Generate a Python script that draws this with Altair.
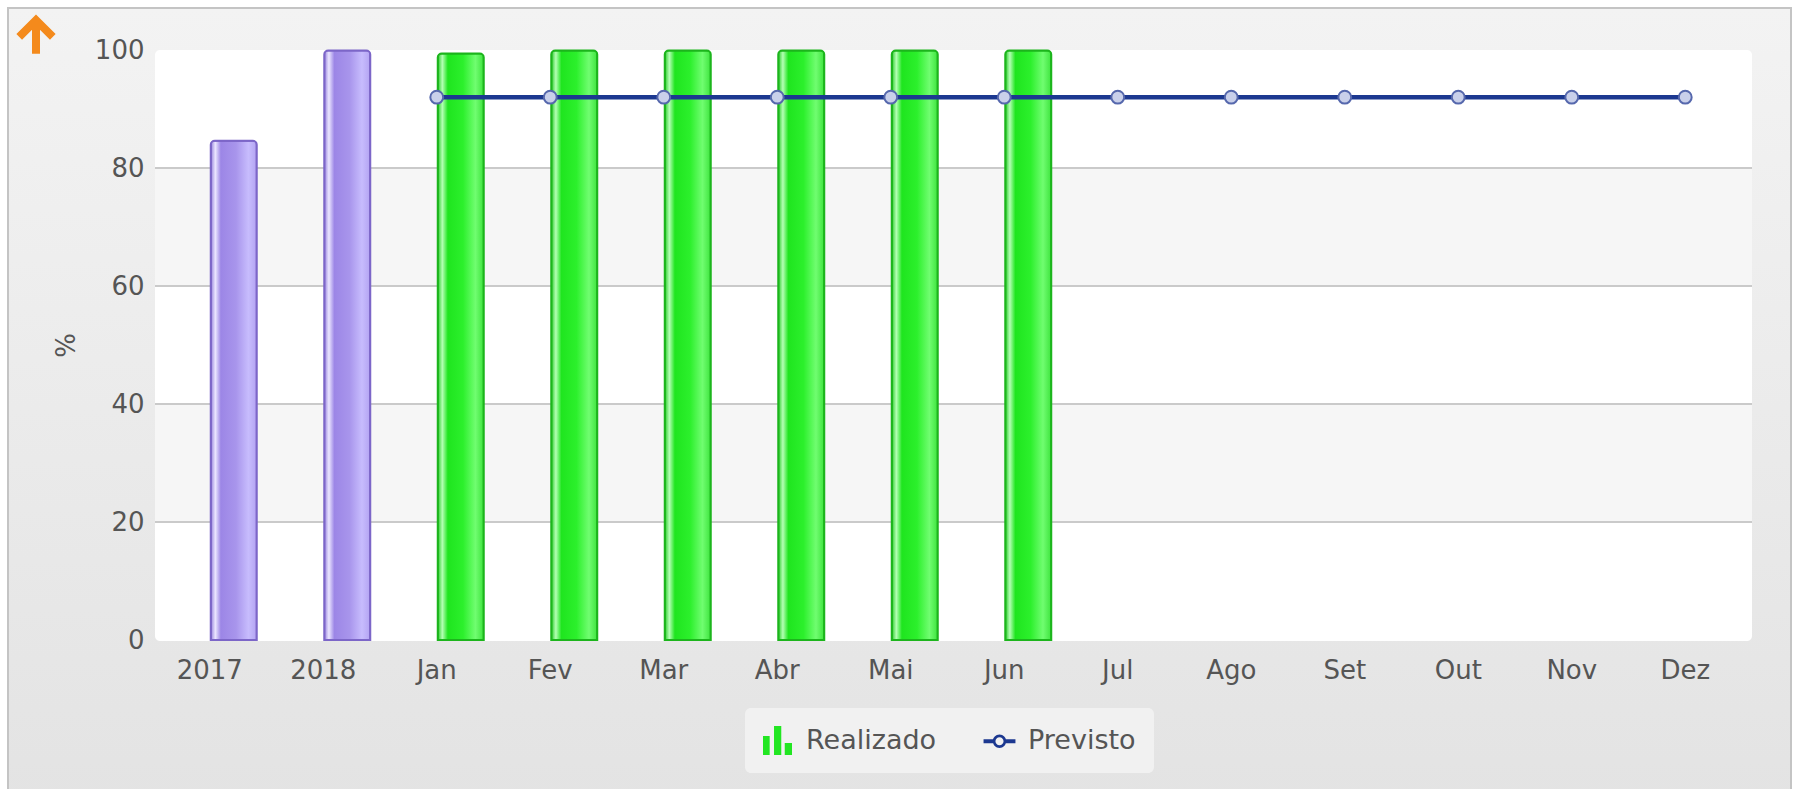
import altair as alt
import pandas as pd

# Categories on the x axis: two yearly totals followed by the months
categorias = ["2017", "2018", "Jan", "Fev", "Mar", "Abr", "Mai", "Jun",
              "Jul", "Ago", "Set", "Out", "Nov", "Dez"]

# Realizado (%) - yearly values
anos = ["2017", "2018"]
realizado_anos = [84.6, 99.9]

# Realizado (%) - monthly values available so far
meses_realizados = ["Jan", "Fev", "Mar", "Abr", "Mai", "Jun"]
realizado_meses = [99.4, 99.9, 99.9, 99.9, 99.9, 99.9]

# Previsto (%) - monthly target
meses = ["Jan", "Fev", "Mar", "Abr", "Mai", "Jun",
         "Jul", "Ago", "Set", "Out", "Nov", "Dez"]
previsto = [92, 92, 92, 92, 92, 92, 92, 92, 92, 92, 92, 92]

# Y axis ticks, grid lines and shaded bands
ticks_y = [0, 20, 40, 60, 80, 100]
linhas_grade = [20, 40, 60, 80]
faixa_inicio = [60, 20]
faixa_fim = [80, 40]

series = ["Realizado", "Previsto"]

W, H = 1597, 590
FONTE = "DejaVu Sans"
COR_TEXTO = "#555555"
TAM = 26

df_anos = pd.DataFrame({"categoria": anos, "valor": realizado_anos})
df_meses = pd.DataFrame({"categoria": meses_realizados, "valor": realizado_meses})
df_prev = pd.DataFrame({"categoria": meses, "valor": previsto})
df_grade = pd.DataFrame({"valor": linhas_grade})
df_faixas = pd.DataFrame({"valor": faixa_inicio, "valor2": faixa_fim})
df_leg = pd.DataFrame({"serie": series})
df_um = pd.DataFrame({"k": [0]})


def enc_x():
    return alt.X(
        "categoria:N",
        scale=alt.Scale(domain=categorias, range=[-2, 1587], paddingInner=0, paddingOuter=0),
        axis=alt.Axis(labelFont=FONTE, labelFontSize=TAM, labelColor=COR_TEXTO,
                      labelAngle=0, labelPadding=17, ticks=False, domain=False, grid=False,
                      zindex=2),
        title=None,
    )


def enc_y():
    return alt.Y(
        "valor:Q",
        scale=alt.Scale(domain=[0, 100], nice=False, zero=True),
        axis=alt.Axis(values=ticks_y, labelFont=FONTE, labelFontSize=TAM, labelColor=COR_TEXTO,
                      labelPadding=11, ticks=False, domain=False, grid=False,
                      titleFont=FONTE, titleFontSize=TAM, titleFontWeight="normal",
                      titleColor=COR_TEXTO, titleX=-76, titleY=295, zindex=2),
        title="%",
    )


def gradiente(paradas):
    return alt.LinearGradient(
        gradient="linear", x1=0, x2=1, y1=0, y2=0,
        stops=[alt.GradientStop(offset=o, color=c) for o, c in paradas],
    )


roxo = gradiente([(0, "#9480dc"), (0.1, "#ebe6ff"), (0.22, "#9c86e6"),
                  (0.55, "#a895ec"), (0.82, "#c7bcfd"), (1, "#b3a3f2")])
verde = gradiente([(0, "#27cc27"), (0.1, "#b4ffb4"), (0.22, "#1fe51f"),
                   (0.55, "#2cf02c"), (0.82, "#70fd70"), (1, "#3ee43e")])

# Panel behind everything: light vertical gradient with a grey border
fundo = alt.Chart(df_um).mark_rect(
    fill=alt.LinearGradient(
        gradient="linear", x1=0, x2=0, y1=0, y2=1,
        stops=[alt.GradientStop(offset=0, color="#f3f3f3"),
               alt.GradientStop(offset=1, color="#e3e3e3")]),
    stroke="#c4c4c4", strokeWidth=2,
).encode(x=alt.value(-147), x2=alt.value(1636), y=alt.value(-42), y2=alt.value(760))

# White plotting area
area = alt.Chart(df_um).mark_rect(fill="white", cornerRadius=5).encode(
    x=alt.value(0), x2=alt.value(W), y=alt.value(0), y2=alt.value(H + 1))

faixas = alt.Chart(df_faixas).mark_rect(fill="#f6f6f6").encode(
    x=alt.value(0), x2=alt.value(W), y=enc_y(), y2="valor2:Q")

grade = alt.Chart(df_grade).mark_rule(color="#cacaca", strokeWidth=2).encode(
    x=alt.value(0), x2=alt.value(W), y=enc_y())

estilo_barra = dict(width=46, xOffset=24, strokeWidth=2,
                    cornerRadiusTopLeft=4, cornerRadiusTopRight=4)

barras_anos = alt.Chart(df_anos).mark_bar(fill=roxo, stroke="#7c66c8", **estilo_barra).encode(
    x=enc_x(), y=enc_y())

barras_meses = alt.Chart(df_meses).mark_bar(fill=verde, stroke="#1cb51c", **estilo_barra).encode(
    x=enc_x(), y=enc_y())

linha = alt.Chart(df_prev).mark_line(color="#1c3890", strokeWidth=4.5).encode(
    x=enc_x(), y=enc_y())

pontos = alt.Chart(df_prev).mark_point(
    filled=True, fill="#c9d0ea", stroke="#5668ad", strokeWidth=2, size=165, opacity=1
).encode(x=enc_x(), y=enc_y())

# Legend icons (unit-square SVG paths)
ICONE_BARRAS = ("M-1,1 L-1,-0.31 L-0.54,-0.31 L-0.54,1 Z "
                "M-0.24,1 L-0.24,-1 L0.26,-1 L0.26,1 Z "
                "M0.5,1 L0.5,0.17 L1,0.17 L1,1 Z")
ICONE_LINHA = ("M-1.1,-0.13 L-0.42,-0.13 L-0.42,0.13 L-1.1,0.13 Z "
               "M0.42,-0.13 L1.1,-0.13 L1.1,0.13 L0.42,0.13 Z "
               "M0.46,0 A0.46,0.46 0 1,1 -0.46,0 A0.46,0.46 0 1,1 0.46,0 Z "
               "M0.28,0 A0.28,0.28 0 1,0 -0.28,0 A0.28,0.28 0 1,0 0.28,0 Z")

legenda_cfg = dict(
    orient="none", legendX=590, legendY=658, direction="horizontal",
    fillColor="#f1f1f1", cornerRadius=6, padding=18,
    labelFont=FONTE, labelFontSize=27, labelColor=COR_TEXTO, labelOffset=14,
    columnPadding=46, symbolSize=841, symbolStrokeWidth=0,
)

legenda = alt.Chart(df_leg).transform_filter("false").mark_point(filled=True, opacity=1).encode(
    x=alt.value(0), y=alt.value(0),
    color=alt.Color("serie:N", scale=alt.Scale(domain=series, range=["#22e622", "#1c3890"]),
                    title=None, legend=alt.Legend(**legenda_cfg)),
    shape=alt.Shape("serie:N", scale=alt.Scale(domain=series, range=[ICONE_BARRAS, ICONE_LINHA]),
                    title=None, legend=alt.Legend(**legenda_cfg)),
)

# Orange "up" arrow in the top-left corner of the panel
SETA = "M0,-0.9 L0,1 M-0.95,0.05 L0,-0.9 L0.95,0.05"
seta = alt.Chart(df_um).mark_point(
    shape=SETA, filled=False, stroke="#f48a1c", strokeWidth=8, size=1250, opacity=1,
    strokeJoin="miter", strokeCap="butt",
).encode(x=alt.value(-119), y=alt.value(-14))

chart = alt.layer(
    fundo, area, faixas, grade, barras_anos, barras_meses, linha, pontos, legenda, seta
).properties(
    width=W, height=H,
    padding={"left": 155, "top": 50, "right": 42, "bottom": 149},
    autosize=alt.AutoSizeParams(type="none"),
    background="white",
).configure_view(stroke="transparent")

chart.save("out.html", embed_options={"renderer": "svg", "actions": False})
